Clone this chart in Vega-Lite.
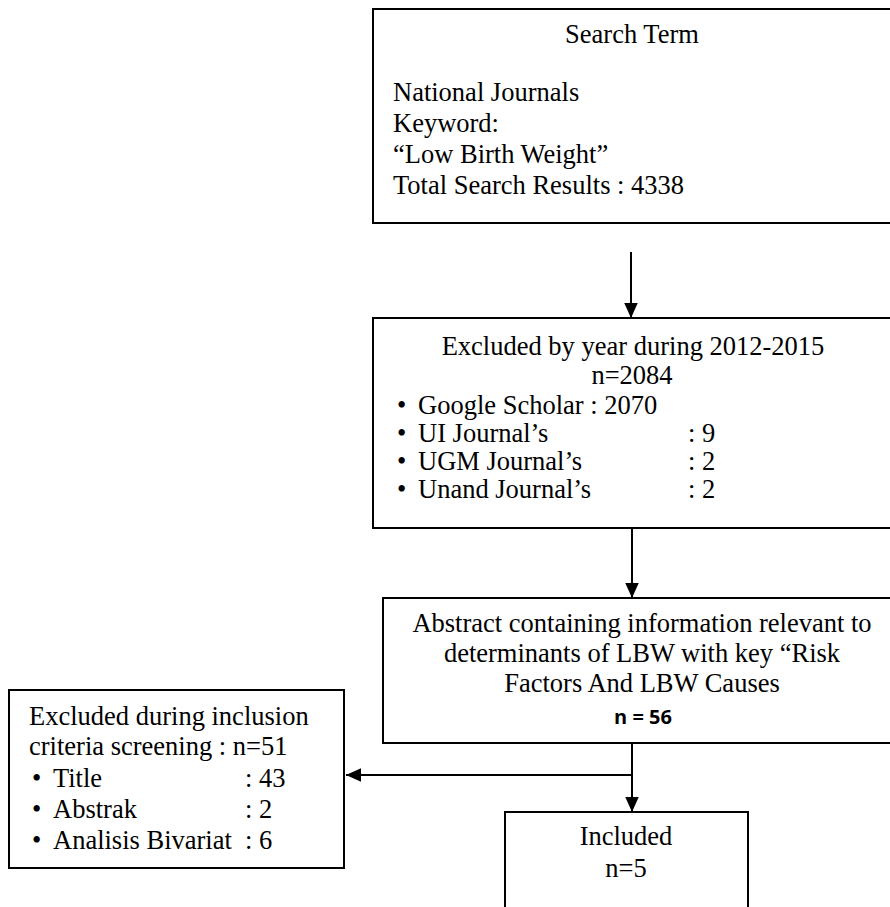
{
  "$schema": "https://vega.github.io/schema/vega-lite/v6.json",
  "width": 890,
  "height": 907,
  "autosize": {"type": "fit", "contains": "padding"},
  "padding": 0,
  "background": "white",
  "config": {"view": {"stroke": null}},
  "datasets": {
    "boxes": [
      {"box": "search", "x": 373, "y": 9, "x2": 893, "y2": 223},
      {"box": "year", "x": 373, "y": 318, "x2": 893, "y2": 528},
      {"box": "abstract", "x": 383, "y": 598, "x2": 901, "y2": 743},
      {"box": "excluded", "x": 9, "y": 690, "x2": 344, "y2": 868},
      {"box": "included", "x": 505, "y": 812, "x2": 748, "y2": 940}
    ],
    "arrows": [
      {"x": 631, "y": 252, "x2": 631, "y2": 318, "dir": "down"},
      {"x": 632, "y": 528, "x2": 632, "y2": 598, "dir": "down"},
      {"x": 632, "y": 743, "x2": 632, "y2": 812, "dir": "down"},
      {"x": 632, "y": 775, "x2": 346, "y2": 775, "dir": "left"}
    ],
    "texts": [
      {"role": "heading", "x": 632, "y": 43, "label": "Search Term"},
      {"role": "body", "x": 393, "y": 101, "label": "National Journals"},
      {"role": "body", "x": 393, "y": 132, "label": "Keyword:"},
      {"role": "body", "x": 393, "y": 163, "label": "“Low Birth Weight”"},
      {"role": "body", "x": 393, "y": 194, "label": "Total Search Results : 4338"},
      {"role": "heading", "x": 633, "y": 355, "label": "Excluded by year during 2012-2015"},
      {"role": "heading", "x": 632, "y": 384, "label": "n=2084"},
      {"role": "body", "x": 397, "y": 414, "label": "•"},
      {"role": "body", "x": 418, "y": 414, "label": "Google Scholar : 2070"},
      {"role": "body", "x": 397, "y": 442, "label": "•"},
      {"role": "body", "x": 418, "y": 442, "label": "UI Journal’s"},
      {"role": "body", "x": 688, "y": 442, "label": ": 9"},
      {"role": "body", "x": 397, "y": 470, "label": "•"},
      {"role": "body", "x": 418, "y": 470, "label": "UGM Journal’s"},
      {"role": "body", "x": 688, "y": 470, "label": ": 2"},
      {"role": "body", "x": 397, "y": 498, "label": "•"},
      {"role": "body", "x": 418, "y": 498, "label": "Unand Journal’s"},
      {"role": "body", "x": 688, "y": 498, "label": ": 2"},
      {"role": "heading", "x": 642, "y": 632, "label": "Abstract containing information relevant to"},
      {"role": "heading", "x": 642, "y": 662, "label": "determinants of LBW with key “Risk"},
      {"role": "heading", "x": 642, "y": 692, "label": "Factors And LBW Causes"},
      {"role": "bold", "x": 643, "y": 724, "label": "n = 56"},
      {"role": "body", "x": 29, "y": 725, "label": "Excluded during inclusion"},
      {"role": "body", "x": 29, "y": 755, "label": "criteria screening : n=51"},
      {"role": "body", "x": 32, "y": 787, "label": "•"},
      {"role": "body", "x": 53, "y": 787, "label": "Title"},
      {"role": "body", "x": 245, "y": 787, "label": ": 43"},
      {"role": "body", "x": 32, "y": 818, "label": "•"},
      {"role": "body", "x": 53, "y": 818, "label": "Abstrak"},
      {"role": "body", "x": 245, "y": 818, "label": ": 2"},
      {"role": "body", "x": 32, "y": 849, "label": "•"},
      {"role": "body", "x": 53, "y": 849, "label": "Analisis Bivariat"},
      {"role": "body", "x": 245, "y": 849, "label": ": 6"},
      {"role": "heading", "x": 626, "y": 845, "label": "Included"},
      {"role": "heading", "x": 626, "y": 877, "label": "n=5"}
    ]
  },
  "encoding": {
    "x": {"field": "x", "type": "quantitative", "scale": {"domain": [0, 890], "nice": false, "zero": false}, "axis": null},
    "y": {"field": "y", "type": "quantitative", "scale": {"domain": [0, 907], "reverse": true, "nice": false, "zero": false}, "axis": null}
  },
  "layer": [
    {
      "data": {"name": "boxes"},
      "mark": {"type": "rect", "fill": "white", "stroke": "black", "strokeWidth": 2, "clip": true},
      "encoding": {"x2": {"field": "x2"}, "y2": {"field": "y2"}}
    },
    {
      "data": {"name": "arrows"},
      "mark": {"type": "rule", "color": "black", "strokeWidth": 2},
      "encoding": {"x2": {"field": "x2"}, "y2": {"field": "y2"}}
    },
    {
      "data": {"name": "arrows"},
      "mark": {"type": "point", "filled": true, "color": "black", "opacity": 1, "size": 900, "strokeWidth": 0},
      "encoding": {
        "x": {"field": "x2", "type": "quantitative"},
        "y": {"field": "y2", "type": "quantitative"},
        "shape": {"field": "dir", "type": "nominal", "scale": {"domain": ["down", "left"], "range": ["M0,0L-0.45,-1L0.45,-1Z", "M0,0L1,-0.45L1,0.45Z"]}, "legend": null}
      }
    },
    {
      "data": {"name": "texts"},
      "transform": [{"filter": "datum.role == 'heading'"}],
      "mark": {"type": "text", "align": "center", "baseline": "alphabetic", "font": "Liberation Serif", "fontSize": 26.5, "color": "black"},
      "encoding": {"text": {"field": "label"}}
    },
    {
      "data": {"name": "texts"},
      "transform": [{"filter": "datum.role == 'body'"}],
      "mark": {"type": "text", "align": "left", "baseline": "alphabetic", "font": "Liberation Serif", "fontSize": 26.5, "color": "black"},
      "encoding": {"text": {"field": "label"}}
    },
    {
      "data": {"name": "texts"},
      "transform": [{"filter": "datum.role == 'bold'"}],
      "mark": {"type": "text", "align": "center", "baseline": "alphabetic", "font": "Open Sans", "fontWeight": "bold", "fontSize": 20, "color": "black"},
      "encoding": {"text": {"field": "label"}}
    }
  ]
}
